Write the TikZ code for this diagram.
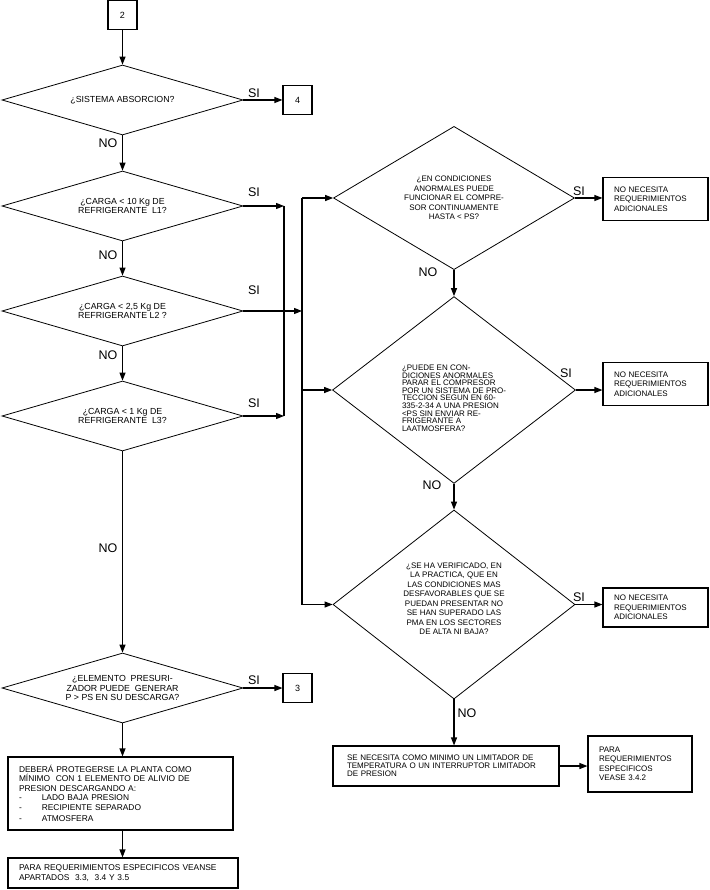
\documentclass[tikz,border=0pt]{standalone}
\usepackage{fontspec}
\setmainfont{Liberation Sans}
\usetikzlibrary{shapes, arrows.meta, positioning, calc}

\begin{document}
\begin{tikzpicture}[x=1pt, y=-1pt,
  decision/.style={diamond, draw, line width=0.8pt, inner sep=0pt, align=center, font=\fontsize{8}{9.5}\selectfont},
  leftq/.style={decision, shape aspect=3.4, minimum width=241pt, minimum height=70pt, font=\fontsize{8.8}{9.5}\selectfont},
  refbox/.style={draw, line width=1.1pt, minimum width=29pt, minimum height=29pt, font=\fontsize{9}{10}\selectfont},
  notebox/.style={draw, line width=1.1pt, align=left, inner xsep=11pt, font=\fontsize{8}{9.5}\selectfont},
  flow/.style={line width=1.1pt, -{Triangle[length=8pt,width=6pt]}},
  answer/.style={font=\fontsize{12.5}{13}\selectfont}]
  \useasboundingbox (0,0) rectangle (709,890);

  % left column
  \node[refbox] (start) at (122.5,15) {2};
  \node[leftq] (absorb) at (122.5,100) {¿SISTEMA ABSORCION?};
  \node[refbox] (goFour) at (297.5,100) {4};
  \node[leftq] (chargeA) at (122.5,206) {¿CARGA < 10 Kg DE\\REFRIGERANTE\ \ L1?};
  \node[leftq] (chargeB) at (122.5,311) {¿CARGA < 2,5 Kg DE\\REFRIGERANTE L2 ?};
  \node[leftq] (chargeC) at (122.5,416) {¿CARGA < 1 Kg DE\\REFRIGERANTE\ \ L3?};
  \node[leftq] (pressur) at (122.5,688) {¿ELEMENTO\ \ PRESURI-\\ZADOR PUEDE\ \ GENERAR\\P > PS EN SU DESCARGA?};
  \node[refbox] (goThree) at (297.5,688) {3};
  \node[notebox, text width=203pt, minimum height=73pt, font=\fontsize{8.4}{9.5}\selectfont] (relief) at (120.5,793.5) {DEBERÁ PROTEGERSE LA PLANTA COMO\\MÍNIMO\ \ CON 1 ELEMENTO DE ALIVIO DE\\PRESION DESCARGANDO A:\\-\hspace{20pt}LADO BAJA PRESION\\-\hspace{20pt}RECIPIENTE SEPARADO\\[2pt]-\hspace{20pt}ATMOSFERA};
  \node[notebox, text width=208pt, minimum height=30pt, font=\fontsize{8.4}{9.5}\selectfont] (seeSpec) at (123,873) {PARA REQUERIMIENTOS ESPECIFICOS VEANSE\\APARTADOS\ \ 3.3,\ \ 3.4 Y 3.5};

  % right column
  \node[decision, minimum width=241pt, minimum height=112pt] (abnormal) at (454,198) {¿EN CONDICIONES\\ANORMALES PUEDE\\FUNCIONAR EL COMPRE-\\SOR CONTINUAMENTE\\HASTA < PS?};
  \node[notebox, text width=83pt, minimum height=43pt] (okA) at (655.5,199) {NO NECESITA\\REQUERIMIENTOS\\ADICIONALES};
  \node[decision, align=left, font=\fontsize{8}{7.6}\selectfont, minimum width=243pt, minimum height=184pt] (stopComp) at (454,390) {\rule{0pt}{22pt}¿PUEDE EN CON-\\DICIONES ANORMALES\\PARAR EL COMPRESOR\\POR UN SISTEMA DE PRO-\\TECCION SEGUN EN 60-\\335-2-34 A UNA PRESION\\<PS SIN ENVIAR RE-\\FRIGERANTE A\\LAATMOSFERA?};
  \node[notebox, text width=83pt, minimum height=43pt] (okB) at (655.5,384) {NO NECESITA\\REQUERIMIENTOS\\ADICIONALES};
  \node[decision, minimum width=242pt, minimum height=189pt] (verified) at (454,604.5) {¿SE HA VERIFICADO, EN\\LA PRACTICA, QUE EN\\LAS CONDICIONES MAS\\DESFAVORABLES QUE SE\\PUEDAN PRESENTAR NO\\SE HAN SUPERADO LAS\\PMA EN LOS SECTORES\\DE ALTA NI BAJA?\rule[-12pt]{0pt}{12pt}};
  \node[notebox, text width=83pt, minimum height=39pt] (okC) at (655.5,607.5) {NO NECESITA\\REQUERIMIENTOS\\ADICIONALES};
  \node[notebox, inner xsep=14pt, text width=198pt, minimum height=40pt, font=\fontsize{8}{8.2}\selectfont] (limiter) at (446,766) {SE NECESITA COMO MINIMO UN LIMITADOR DE\\TEMPERATURA O UN INTERRUPTOR LIMITADOR\\DE PRESION};
  \node[notebox, text width=82pt, minimum height=56pt] (seeLimit) at (640,764) {PARA\\REQUERIMIENTOS\\ESPECIFICOS\\VEASE 3.4.2};

  % buses
  \coordinate (busA) at (284,206);
  \coordinate (busAend) at (284,416);
  \coordinate (busB) at (302,198);
  \coordinate (busBend) at (302,604.5);

  % connectors
  \draw[flow] (start.south) -- (absorb.north);
  \draw[flow] (absorb.east) -- (goFour.west);
  \draw[flow] (absorb.south) -- (chargeA.north);
  \draw[flow] (chargeA.east) -- (busA);
  \draw[flow] (chargeA.south) -- (chargeB.north);
  \draw[flow] (chargeB.east) -- (chargeB.east -| busB);
  \draw[flow] (chargeB.south) -- (chargeC.north);
  \draw[flow] (chargeC.east) -- (busAend);
  \draw[line width=1.1pt] (busA) -- (busAend);
  \draw[flow] (chargeC.south) -- (pressur.north);
  \draw[flow] (pressur.east) -- (goThree.west);
  \draw[flow] (pressur.south) -- (pressur.south |- relief.north);
  \draw[flow] (pressur.south |- relief.south) -- (pressur.south |- seeSpec.north);

  \draw[line width=1.1pt] (busB) -- (busBend);
  \draw[flow] (busB) -- (abnormal.west);
  \draw[flow] (busB |- stopComp.west) -- (stopComp.west);
  \draw[flow] (busBend) -- (verified.west);
  \draw[flow] (abnormal.east) -- (abnormal.east -| okA.west);
  \draw[flow] (stopComp.east) -- (stopComp.east -| okB.west);
  \draw[flow] (verified.east) -- (verified.east -| okC.west);
  \draw[flow] (abnormal.south) -- (stopComp.north);
  \draw[flow] (stopComp.south) -- (verified.north);
  \draw[flow] (verified.south) -- (verified.south |- limiter.north);
  \draw[flow] (limiter.east) -- (limiter.east -| seeLimit.west);

  % answers
  \node[answer] (siAbsorb) at (254,93) {SI};
  \node[answer] (noAbsorb) at (108,143) {NO};
  \node[answer] (siChargeA) at (254,192) {SI};
  \node[answer] (noChargeA) at (108,255) {NO};
  \node[answer] (siChargeB) at (254,290) {SI};
  \node[answer] (noChargeB) at (108,355) {NO};
  \node[answer] (siChargeC) at (254,403) {SI};
  \node[answer] (noChargeC) at (108,548) {NO};
  \node[answer] (siPressur) at (254,680) {SI};
  \node[answer] (siAbnormal) at (579,191) {SI};
  \node[answer] (noAbnormal) at (428,272) {NO};
  \node[answer] (siStopComp) at (566,373) {SI};
  \node[answer] (noStopComp) at (432,485) {NO};
  \node[answer] (siVerified) at (579,597) {SI};
  \node[answer] (noVerified) at (467,713) {NO};
\end{tikzpicture}
\end{document}
